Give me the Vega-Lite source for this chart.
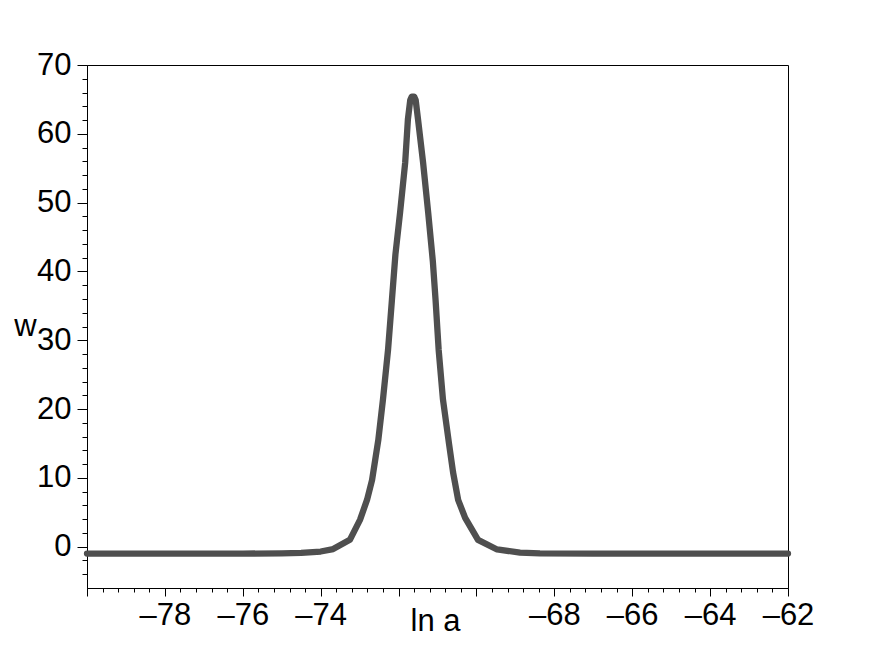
{
  "$schema": "https://vega.github.io/schema/vega-lite/v6.json",
  "width": 701,
  "height": 523,
  "autosize": {"type": "none"},
  "padding": {"left": 87, "top": 65, "right": 84, "bottom": 66},
  "background": "white",
  "config": {
    "view": {"stroke": "#000", "strokeWidth": 1},
    "font": "Liberation Sans",
    "axis": {
      "domainColor": "#000",
      "tickColor": "#000",
      "labelColor": "#000",
      "titleColor": "#000",
      "labelFont": "Liberation Sans",
      "titleFont": "Liberation Sans",
      "labelFontSize": 31,
      "titleFontSize": 31,
      "titleFontWeight": "normal",
      "grid": false,
      "domainWidth": 1,
      "tickWidth": 1
    }
  },
  "data": {
    "values": [
      {"x": -80, "w": -1.0},
      {"x": -78, "w": -1.0},
      {"x": -76, "w": -1.0},
      {"x": -75.0, "w": -0.97},
      {"x": -74.5, "w": -0.9},
      {"x": -74.0, "w": -0.7},
      {"x": -73.68, "w": -0.35},
      {"x": -73.25, "w": 1.0},
      {"x": -72.99, "w": 3.9},
      {"x": -72.81, "w": 6.8},
      {"x": -72.68, "w": 9.7},
      {"x": -72.6, "w": 12.6},
      {"x": -72.52, "w": 15.5},
      {"x": -72.4, "w": 21.4},
      {"x": -72.27, "w": 28.6},
      {"x": -72.17, "w": 35.9},
      {"x": -72.08, "w": 42.5},
      {"x": -71.96, "w": 48.6},
      {"x": -71.83, "w": 55.8},
      {"x": -71.76, "w": 62.1},
      {"x": -71.7, "w": 64.9},
      {"x": -71.66, "w": 65.4},
      {"x": -71.6, "w": 65.4},
      {"x": -71.56, "w": 64.9},
      {"x": -71.5, "w": 62.1},
      {"x": -71.37, "w": 55.8},
      {"x": -71.24, "w": 48.6},
      {"x": -71.12, "w": 41.5},
      {"x": -71.05, "w": 35.9},
      {"x": -70.97, "w": 28.6},
      {"x": -70.86, "w": 21.4},
      {"x": -70.7, "w": 14.8},
      {"x": -70.6, "w": 10.8},
      {"x": -70.47, "w": 6.8},
      {"x": -70.29, "w": 4.2},
      {"x": -69.96, "w": 1.0},
      {"x": -69.47, "w": -0.4},
      {"x": -68.88, "w": -0.85},
      {"x": -68.37, "w": -0.97},
      {"x": -67, "w": -1.0},
      {"x": -62, "w": -1.0}
    ]
  },
  "resolve": {"axis": {"x": "independent", "y": "independent"}},
  "layer": [
    {
      "mark": {"type": "line", "color": "#4f4f4f", "strokeWidth": 6.3, "strokeCap": "round", "strokeJoin": "round", "clip": false},
      "encoding": {
        "x": {
          "field": "x", "type": "quantitative",
          "scale": {"domain": [-80, -62], "nice": false, "zero": false},
          "axis": {
            "orient": "bottom",
            "values": [-80, -78, -76, -74, -72, -70, -68, -66, -64, -62],
            "tickSize": 8,
            "labelPadding": 4,
            "labelFlush": false,
            "labelOverlap": false,
            "labelExpr": "datum.value == -80 || datum.value == -72 || datum.value == -70 ? '' : '–' + abs(datum.value)",
            "title": "ln a",
            "titleX": 348,
            "titleY": 42,
            "titleAlign": "center",
            "titleBaseline": "alphabetic"
          }
        },
        "y": {
          "field": "w", "type": "quantitative",
          "scale": {"domain": [-6, 70], "nice": false, "zero": false},
          "axis": {
            "orient": "left",
            "values": [0, 10, 20, 30, 40, 50, 60, 70],
            "tickSize": 10,
            "labelPadding": 6,
            "labelFlush": false,
            "labelOverlap": false,
            "title": "w",
            "titleAngle": 0,
            "titleX": -62,
            "titleY": 270,
            "titleAlign": "center",
            "titleBaseline": "alphabetic"
          }
        }
      }
    },
    {
      "mark": {"type": "line", "opacity": 0},
      "encoding": {
        "x": {
          "field": "x", "type": "quantitative",
          "axis": {
            "orient": "bottom",
            "values": [-79.6, -79.2, -78.8, -78.4, -77.6, -77.2, -76.8, -76.4, -75.6, -75.2, -74.8, -74.4, -73.6, -73.2, -72.8, -72.4, -71.6, -71.2, -70.8, -70.4, -69.6, -69.2, -68.8, -68.4, -67.6, -67.2, -66.8, -66.4, -65.6, -65.2, -64.8, -64.4, -63.6, -63.2, -62.8, -62.4],
            "tickSize": 4,
            "labels": false,
            "domain": false,
            "title": null
          }
        },
        "y": {
          "field": "w", "type": "quantitative",
          "axis": {
            "orient": "left",
            "values": [-4, -2, 2, 4, 6, 8, 12, 14, 16, 18, 22, 24, 26, 28, 32, 34, 36, 38, 42, 44, 46, 48, 52, 54, 56, 58, 62, 64, 66, 68],
            "tickSize": 5,
            "labels": false,
            "domain": false,
            "title": null
          }
        }
      }
    }
  ]
}
